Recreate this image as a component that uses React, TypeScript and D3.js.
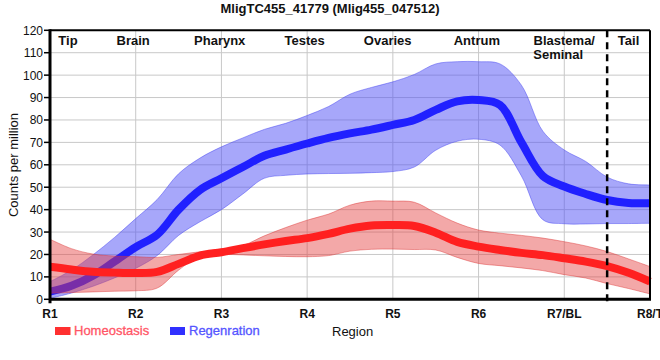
import React from "react";
import * as d3 from "d3";

const title = "MligTC455_41779 (Mlig455_047512)";
const tickLabels = ["R1", "R2", "R3", "R4", "R5", "R6", "R7/BL", "R8/T"];
const yTicks = [0, 10, 20, 30, 40, 50, 60, 70, 80, 90, 100, 110, 120];
const regionNames = ["Tip", "Brain", "Pharynx", "Testes", "Ovaries", "Antrum", "Blastema/", "Tail"];
const regionPos = [0.21, 0.97, 1.98, 2.97, 3.94, 4.98, 6.0, 6.75];

// sample positions (region index), every quarter step
const xs = [0, 0.25, 0.5, 0.75, 1, 1.25, 1.5, 1.75, 2, 2.25, 2.5, 2.75, 3, 3.25, 3.5, 3.75, 4, 4.25, 4.5, 4.75, 5, 5.25, 5.5, 5.75, 6, 6.25, 6.5, 6.75, 7];

const homeoMean = [14.5, 13.3, 12.3, 11.9, 11.7, 12.2, 15.8, 19.5, 21, 22.8, 24.5, 26, 27.3, 29.2, 31.5, 32.9, 33.1, 32.7, 29.7, 25.6, 23.5, 22, 20.7, 19.7, 18.3, 16.8, 14.8, 11.8, 7.9];
const homeoUpper = [26.8, 22.6, 20.2, 19.3, 19, 18.7, 20, 21.2, 22.3, 24, 28.3, 32, 35.3, 38, 42, 43.8, 43.8, 43.3, 38.5, 34, 30.9, 29.5, 28.5, 27.3, 25.7, 23.8, 21.3, 18, 14.6];
const homeoLower = [2.7, 3, 3.3, 3.6, 3.8, 5, 13, 19.3, 20, 19.8, 19.4, 19.1, 19, 19.5, 21.5, 22.3, 22.4, 22.2, 22, 18.7, 16, 15, 14, 12.8, 11, 9.5, 7, 4.8, 2.4];

const regenMean = [3.4, 6, 10.5, 16.8, 23.3, 28.8, 40, 48.8, 54, 59, 64, 66.8, 69.5, 72, 74, 75.7, 77.8, 80, 84.5, 88.3, 88.9, 86.7, 70, 55, 50.3, 47, 44.3, 43, 42.8];
const regenUpper = [7.9, 13, 19.8, 27.5, 36, 44.5, 56, 63, 68, 72, 75.8, 78.5, 82, 86, 91.5, 94.5, 97, 100.3, 105, 106, 106, 105, 95.5, 75, 66.6, 61.5, 54.5, 51.5, 51];
const regenLower = [0.4, 2.8, 5.8, 9.5, 13.8, 19.5, 28.5, 34.6, 40, 47, 54, 55.3, 55.9, 56.1, 56.2, 56.5, 57, 59, 66.5, 70.5, 71.4, 68.8, 55, 35.5, 33.7, 33.6, 33.8, 33.8, 33.9];

const FONT = "'Liberation Sans', Arial, sans-serif";

export default function App() {
  const W = 660, H = 360;
  const left = 50, right = 650, top = 30.3, bottom = 299.3;
  const x = d3.scaleLinear().domain([0, 7]).range([left, right]);
  const y = d3.scaleLinear().domain([0, 120]).range([bottom, top]);
  const curve = d3.curveCatmullRom.alpha(0.5);

  const band = (lo: number[], hi: number[]) =>
    d3.area<number>().x((d) => x(xs[d])).y0((d) => y(lo[d])).y1((d) => y(hi[d])).curve(curve)(xs.map((_, i) => i)) || "";
  const line = (vals: number[]) =>
    d3.line<number>().x((d) => x(xs[d])).y((d) => y(vals[d])).curve(curve)(xs.map((_, i) => i)) || "";

  const gridX = d3.range(1, 7);
  const gridY = yTicks.filter((t) => t > 0 && t < 120);

  return (
    <svg width={W} height={H} style={{ position: "absolute", left: 0, top: 0 }} fontFamily={FONT}>
      <rect width={W} height={H} fill="#fff" />
      <text x={330} y={13} textAnchor="middle" fontSize={13} fontWeight="bold" fill="#111">{title}</text>
      {gridY.map((t) => (
        <line key={"gy" + t} x1={left} x2={right} y1={y(t)} y2={y(t)} stroke="#c8c8c8" strokeWidth={1} />
      ))}
      {gridX.map((t) => (
        <line key={"gx" + t} x1={x(t)} x2={x(t)} y1={top} y2={bottom} stroke="#c8c8c8" strokeWidth={1} />
      ))}
      <path d={band(regenLower, regenUpper)} fill="rgba(80,80,245,0.5)" stroke="rgba(60,60,240,0.45)" strokeWidth={1} />
      <path d={line(regenMean)} fill="none" stroke="#2020ff" strokeWidth={8} strokeLinejoin="round" />
      <path d={band(homeoLower, homeoUpper)} fill="rgba(228,62,62,0.45)" stroke="rgba(220,50,50,0.45)" strokeWidth={1} />
      <path d={line(homeoMean)} fill="none" stroke="#ff2020" strokeWidth={8} strokeLinejoin="round" />
      <line x1={x(6.5)} x2={x(6.5)} y1={top} y2={bottom + 5} stroke="#000" strokeWidth={2.5} strokeDasharray="7,5" />
      <line x1={left} x2={right} y1={top} y2={top} stroke="#000" strokeWidth={2} />
      <line x1={right} x2={right} y1={top} y2={bottom} stroke="#000" strokeWidth={2} />
      <line x1={left} x2={left} y1={top - 1} y2={bottom + 4} stroke="#000" strokeWidth={3} />
      <line x1={left - 1} x2={right + 1} y1={bottom} y2={bottom} stroke="#000" strokeWidth={3} />
      {yTicks.map((t) => (
        <g key={"yt" + t}>
          <line x1={left - 6} x2={left} y1={y(t)} y2={y(t)} stroke="#000" strokeWidth={1.5} />
          <text x={left - 7} y={y(t) + 4.5} textAnchor="end" fontSize={12} fill="#111">{t}</text>
        </g>
      ))}
      {tickLabels.map((t, i) => (
        <text key={"xt" + t} x={x(i)} y={317.5} textAnchor="middle" fontSize={12} fontWeight="bold" fill="#111">{t}</text>
      ))}
      {regionNames.map((n, i) => (
        <text key={"rn" + n} x={x(regionPos[i])} y={45} textAnchor="middle" fontSize={13} fontWeight="bold" fill="#111">{n}</text>
      ))}
      <text x={x(regionPos[6]) - 31} y={59} fontSize={13} fontWeight="bold" fill="#111">Seminal</text>
      <text transform={`translate(18,165) rotate(-90)`} textAnchor="middle" fontSize={13} fill="#111">Counts per million</text>
      <rect x={55} y={327} width={15.5} height={8} fill="#ff3030" />
      <text x={74} y={335} fontSize={13} fill="#ff5566" stroke="#ff5566" strokeWidth={0.3}>Homeostasis</text>
      <rect x={170} y={327} width={15} height={8} fill="#3030ff" />
      <text x={189} y={335} fontSize={13} fill="#5555ff" stroke="#5555ff" strokeWidth={0.3}>Regenration</text>
      <text x={332} y={336} fontSize={13} fill="#111">Region</text>
    </svg>
  );
}
